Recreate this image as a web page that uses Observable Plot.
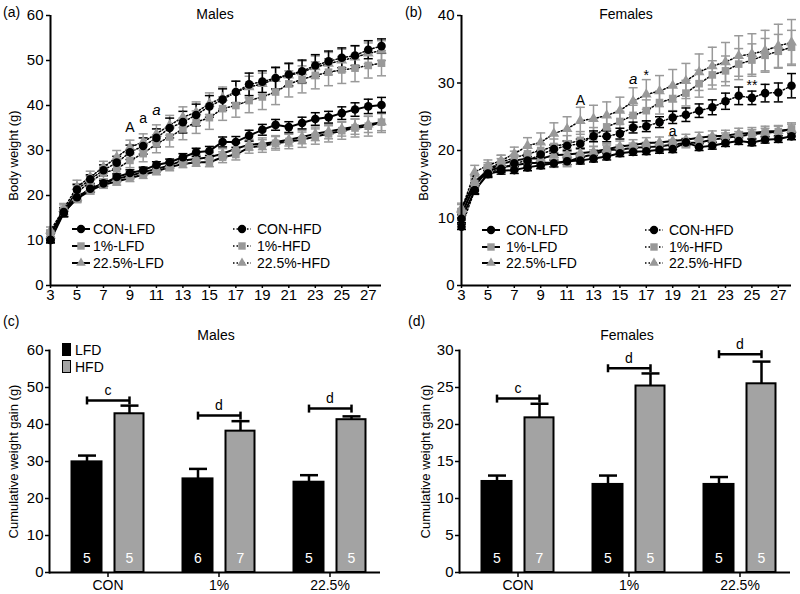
<!DOCTYPE html>
<html><head><meta charset="utf-8">
<script src="https://cdn.jsdelivr.net/npm/d3@7"></script>
<script src="https://cdn.jsdelivr.net/npm/@observablehq/plot@0.6"></script>
<style>
body{margin:0;background:#fff;font-family:"Liberation Sans",Arial,sans-serif;}
#root{position:relative;width:800px;height:594px;overflow:hidden;background:#fff;}
.abs{position:absolute;white-space:nowrap;font-size:14px;color:#000;line-height:14px;}
.plotbox{position:absolute;}
.leg{position:absolute;display:flex;align-items:center;height:14px;font-size:14px;line-height:14px;white-space:nowrap;}
</style></head><body><div id="root"></div>
<script>
// ---------- data ----------
const weeks = [3,4,5,6,7,8,9,10,11,12,13,14,15,16,17,18,19,20,21,22,23,24,25,26,27,28];
const weekTicks = [3,5,7,9,11,13,15,17,19,21,23,25,27];
const seriesNames = ["CON-LFD","1%-LFD","22.5%-LFD","CON-HFD","1%-HFD","22.5%-HFD"];
const seriesSymbol = ["circle","square","triangle","circle","square","triangle"];
const seriesColor = ["#000000","#999999","#999999","#000000","#999999","#999999"];
const seriesDotted = [false,false,false,true,true,true];

// Males body weight (g)
const mConLfd = [10.1,16.1,19.6,21.5,22.7,24.1,25.0,25.6,26.8,27.4,28.5,29.6,29.9,31.9,31.9,33.3,34.6,35.7,35.2,36.1,37.0,37.4,38.3,39.1,39.8,40.1];
const m1Lfd   = [11.5,16.3,19.3,21.1,22.4,23.1,23.9,24.6,25.4,26.3,27.0,27.4,27.4,28.5,29.1,30.7,31.0,31.6,32.0,32.4,33.1,33.7,34.4,35.0,35.4,36.3];
const m22Lfd  = [11.1,17.0,19.5,21.4,22.7,23.7,24.4,25.2,25.9,26.7,27.8,28.1,28.5,29.3,30.4,31.3,31.5,31.9,32.4,33.0,33.7,34.2,34.8,35.3,35.8,36.3];
const mConHfd = [10.1,16.3,21.3,23.6,25.6,27.3,29.6,31.0,32.8,35.0,36.3,37.9,39.8,41.3,43.0,44.7,45.3,46.1,46.9,47.6,48.9,49.8,50.6,51.1,52.4,53.2];
const m1Hfd   = [11.5,16.7,20.7,23.0,25.0,25.9,27.8,29.3,31.5,33.0,34.8,36.3,37.3,39.3,40.0,41.1,41.9,43.0,44.8,45.8,46.7,47.4,47.9,48.3,48.9,49.4];
const m22Hfd  = [12.2,17.0,21.9,24.1,26.3,28.5,30.7,31.9,33.7,35.6,37.4,38.5,40.4,41.7,43.0,44.1,44.8,45.9,46.7,47.4,48.5,49.3,50.0,50.7,51.6,52.2];
const mConLfdSem = [0.6,0.8,0.8,0.7,0.6,0.7,0.7,0.7,0.7,0.7,0.8,0.9,1.0,1.1,1.2,1.2,1.2,1.2,1.2,1.3,1.4,1.3,1.4,1.5,1.6,1.7];
const m1LfdSem   = [0.8,1.0,0.9,0.8,0.8,0.8,0.8,0.8,0.8,0.8,0.8,0.9,1.0,1.2,1.2,1.3,1.4,1.5,1.6,1.7,1.7,1.8,1.9,2.0,2.2,2.3];
const m22LfdSem  = [0.8,1.2,1.0,0.8,0.8,0.8,0.8,0.8,0.8,0.8,0.8,0.9,1.0,1.1,1.2,1.2,1.3,1.4,1.4,1.5,1.5,1.6,1.6,1.7,1.8,1.9];
const mConHfdSem = [0.6,1.0,1.2,1.0,1.2,1.4,1.6,1.8,2.0,2.2,2.4,2.4,2.4,2.4,2.4,2.5,2.4,2.4,2.5,2.5,2.4,2.3,2.2,2.2,2.0,1.6];
const m1HfdSem   = [0.8,1.2,1.5,1.3,1.3,1.5,1.6,1.8,2.0,2.2,2.4,2.5,2.6,2.6,2.6,2.7,2.8,2.8,2.9,3.0,3.0,3.0,3.0,3.0,2.8,2.8];
const m22HfdSem  = [0.8,1.2,1.5,1.3,1.3,1.5,1.6,1.8,2.0,2.2,2.3,2.3,2.4,2.4,2.4,2.4,2.4,2.4,2.5,2.5,2.5,2.5,2.5,2.5,2.3,2.2];

// Females body weight (g)
const fConLfd = [9.9,14.1,16.5,17.0,17.1,17.5,17.8,18.1,18.4,18.5,18.8,19.1,19.6,19.8,19.9,20.1,20.2,21.2,20.5,20.7,21.1,21.4,21.2,21.6,21.7,22.1];
const f1Lfd   = [10.6,14.8,17.0,17.5,17.8,18.1,18.2,18.2,18.3,19.0,19.4,20.1,20.1,20.4,20.5,20.6,20.9,21.1,21.2,21.6,21.9,22.1,22.4,22.6,22.8,23.2];
const f22Lfd  = [11.4,15.3,17.1,18.0,18.5,18.8,18.8,19.3,19.4,19.6,19.8,20.2,20.6,20.8,21.1,21.2,21.4,21.6,21.9,22.1,22.2,22.5,22.6,22.8,22.9,23.1];
const fConHfd = [8.7,14.1,16.6,17.3,18.1,18.5,19.4,20.2,20.7,21.0,22.1,22.1,22.5,23.4,23.6,24.2,24.9,25.3,25.9,26.4,27.3,28.1,27.8,28.5,28.6,29.6];
const f1Hfd   = [10.4,15.1,17.2,18.3,18.9,19.5,20.0,20.6,21.0,21.5,22.0,23.5,24.3,25.2,25.9,27.1,27.7,28.5,29.9,31.2,31.8,32.8,33.4,34.1,34.7,35.3];
const f22Hfd  = [11.2,16.8,17.8,18.5,19.5,20.7,21.2,22.5,23.2,24.4,24.7,25.2,25.9,27.3,28.3,28.8,29.6,30.3,31.6,32.5,33.1,34.0,34.3,34.8,35.5,36.0];
const fConLfdSem = [0.6,0.6,0.5,0.5,0.5,0.5,0.5,0.5,0.5,0.5,0.5,0.5,0.5,0.5,0.5,0.5,0.5,0.5,0.5,0.5,0.5,0.5,0.5,0.5,0.5,0.5];
const f1LfdSem   = [0.8,0.8,0.7,0.7,0.7,0.7,0.7,0.7,0.7,0.7,0.7,0.7,0.7,0.7,0.7,0.7,0.7,0.7,0.7,0.7,0.7,0.7,0.7,0.7,0.8,0.9];
const f22LfdSem  = [0.8,1.0,0.8,0.8,0.8,0.8,0.8,0.8,0.8,0.8,0.8,0.8,0.8,0.8,0.8,0.8,0.8,0.8,0.8,0.8,0.8,0.8,0.8,0.8,0.8,0.8];
const fConHfdSem = [0.4,0.5,0.5,0.5,0.5,0.6,0.6,0.6,0.7,0.7,0.8,0.8,0.8,0.8,0.8,0.8,0.9,1.0,1.0,1.1,1.2,1.3,1.0,1.3,1.4,1.8];
const f1HfdSem   = [0.8,1.0,1.0,1.0,1.0,1.0,1.0,1.1,1.2,1.3,1.4,1.5,1.5,1.5,1.6,1.7,1.8,1.9,2.0,2.1,2.2,2.3,2.4,2.5,2.5,2.5];
const f22HfdSem  = [0.8,1.0,0.8,0.8,1.0,1.2,1.4,1.6,1.8,2.0,2.0,2.0,2.0,2.0,2.2,2.3,2.4,2.6,2.7,2.8,2.9,3.0,3.0,3.0,3.2,3.4];

// annotations on the growth curves
const mAnnLabel = ["A","a","a"];
const mAnnWeek  = [9,10,11];
const mAnnValue = [35.1,37.1,38.9];
const mAnnItalic = [false,false,true];
const fAnnLabel = ["A","a","*","a","**"];
const fAnnWeek  = [12,16,17,19,25];
const fAnnValue = [27.4,30.5,31.1,22.8,29.6];
const fAnnItalic = [false,true,false,false,false];

// Cumulative weight gain
const groups = ["CON","1%","22.5%"];
const mLfdGain = [29.9,25.3,24.4];
const mLfdGainSem = [1.7,2.7,1.9];
const mHfdGain = [42.9,38.2,41.3];
const mHfdGainSem = [2.2,2.7,0.9];
const mLfdN = [5,6,5];
const mHfdN = [5,7,5];
const mBracket = [46.5,42.4,44.3];
const mBracketLabel = ["c","d","d"];

const fLfdGain = [12.3,11.9,11.9];
const fLfdGainSem = [0.8,1.2,1.0];
const fHfdGain = [20.9,25.2,25.5];
const fHfdGainSem = [1.9,1.7,3.0];
const fLfdN = [5,5,5];
const fHfdN = [7,5,5];
const fBracket = [23.5,27.6,29.5];
const fBracketLabel = ["c","d","d"];

const maleYTicks = [0,10,20,30,40,50,60];
const femaleYTicks = [0,10,20,30,40];
const maleGainTicks = [0,10,20,30,40,50,60];
const femaleGainTicks = [0,5,10,15,20,25,30];

// ---------- helpers ----------
const FONT = "Liberation Sans, Arial, sans-serif";
const hline = {draw(ctx, size){const r = Math.sqrt(size/Math.PI); ctx.moveTo(-r,0); ctx.lineTo(r,0);}};
const vline = {draw(ctx, size){const r = Math.sqrt(size/Math.PI); ctx.moveTo(0,-r); ctx.lineTo(0,r);}};
const root = document.getElementById("root");

function place(node, left, top){
  const d = document.createElement("div");
  d.className = "plotbox";
  d.style.left = left + "px"; d.style.top = top + "px";
  d.appendChild(node);
  root.appendChild(d);
}
function label(text, left, top, extra){
  const d = document.createElement("div");
  d.className = "abs";
  d.textContent = text;
  d.style.left = left + "px"; d.style.top = top + "px";
  if (extra) Object.assign(d.style, extra);
  root.appendChild(d);
  return d;
}

function linePanel(cfg){
  const rows = seriesNames.map((name,k) => weeks.map((w,i) => ({name, week:w, value:cfg.values[k][i], sem:cfg.sems[k][i]})));
  const order = [1,2,4,5,0,3];
  const marks = [];
  for (const k of order){
    const c = seriesColor[k];
    marks.push(Plot.ruleX(rows[k], {x:"week", y1:d=>d.value-d.sem, y2:d=>d.value+d.sem, stroke:c, strokeWidth:1.5}));
    marks.push(Plot.dot(rows[k], {x:"week", y:d=>d.value+d.sem, symbol:hline, r:4.5, fill:"none", stroke:c, strokeWidth:1.5}));
    marks.push(Plot.dot(rows[k], {x:"week", y:d=>d.value-d.sem, symbol:hline, r:4.5, fill:"none", stroke:c, strokeWidth:1.5}));
  }
  for (const k of order){
    marks.push(Plot.line(rows[k], seriesDotted[k]
      ? {x:"week", y:"value", stroke:"#000", strokeWidth:1.5, strokeDasharray:"1.5,2"}
      : {x:"week", y:"value", stroke:"#000", strokeWidth:2}));
  }
  for (const k of order){
    const sym = seriesSymbol[k];
    marks.push(Plot.dot(rows[k], {x:"week", y:"value", symbol:sym, r: sym==="triangle"?4:4.3, fill:seriesColor[k], stroke:"none"}));
  }
  const ann = cfg.annLabel.map((t,i)=>({t, week:cfg.annWeek[i], value:cfg.annValue[i], it:cfg.annItalic[i]}));
  marks.push(Plot.text(ann.filter(d=>!d.it), {x:"week", y:"value", text:"t", fontSize:14, fill:"#000"}));
  marks.push(Plot.text(ann.filter(d=>d.it), {x:"week", y:"value", text:"t", fontSize:15, fontStyle:"italic", fill:"#000"}));
  marks.push(Plot.axisY({ticks:cfg.yTicks, tickSize:4, tickPadding:3, fontSize:15, label:null, strokeWidth:1.5}));
  marks.push(Plot.axisX({ticks:weekTicks, tickSize:3, tickPadding:1, fontSize:15, label:null, strokeWidth:1.5}));
  marks.push(Plot.ruleX([3], {strokeWidth:2}));
  marks.push(Plot.ruleY([0], {strokeWidth:2}));
  marks.push(Plot.text([cfg.yLabel], {frameAnchor:"left", rotate:-90, dx:cfg.yLabelDx, dy:5, textAnchor:"middle", fontSize:13}));
  return Plot.plot({
    width:400, height:305, marginLeft:cfg.marginLeft, marginRight:cfg.marginRight, marginTop:15, marginBottom:20,
    x:{domain:[3,28]}, y:{domain:cfg.yDomain},
    style:{fontFamily:FONT, fontSize:"14px", color:"#000", background:"transparent", overflow:"visible"},
    marks
  });
}

function barPanel(cfg){
  const rows = groups.map((g,i)=>({group:g, lfd:cfg.lfd[i], lfdSem:cfg.lfdSem[i], hfd:cfg.hfd[i], hfdSem:cfg.hfdSem[i],
    lfdN:cfg.lfdN[i], hfdN:cfg.hfdN[i], br:cfg.bracket[i], brLab:cfg.bracketLabel[i]}));
  const L = -21, H = 21.5;
  const marks = [
    Plot.ruleX(rows, {x:"group", y1:"lfd", y2:d=>d.lfd+d.lfdSem, dx:L, stroke:"#000", strokeWidth:2.5}),
    Plot.dot(rows, {x:"group", y:d=>d.lfd+d.lfdSem, dx:L, symbol:hline, r:9, fill:"none", stroke:"#000", strokeWidth:2.5}),
    Plot.ruleX(rows, {x:"group", y1:"hfd", y2:d=>d.hfd+d.hfdSem, dx:H, stroke:"#000", strokeWidth:2.5}),
    Plot.dot(rows, {x:"group", y:d=>d.hfd+d.hfdSem, dx:H, symbol:hline, r:9, fill:"none", stroke:"#000", strokeWidth:2.5}),
    Plot.barY(rows, {x:"group", y:"lfd", fill:"#000", stroke:"#000", strokeWidth:2, insetLeft:19.5, insetRight:61.5}),
    Plot.barY(rows, {x:"group", y:"hfd", fill:"#a3a3a3", stroke:"#000", strokeWidth:2, insetLeft:62.5, insetRight:19.5}),
    Plot.tickY(rows, {x:"group", y:"br", insetLeft:34.5, insetRight:34, stroke:"#000", strokeWidth:2.5}),
    Plot.dot(rows, {x:"group", y:"br", dx:L, symbol:vline, r:4, fill:"none", stroke:"#000", strokeWidth:2.5}),
    Plot.dot(rows, {x:"group", y:"br", dx:H, symbol:vline, r:4, fill:"none", stroke:"#000", strokeWidth:2.5}),
    Plot.text(rows, {x:"group", y:"br", text:"brLab", dy:-10, fontSize:14, fill:"#000"}),
    Plot.text(rows, {x:"group", text:d=>String(d.lfdN), frameAnchor:"bottom", dx:L, dy:-10, fill:"#fff", fontSize:14}),
    Plot.text(rows, {x:"group", text:d=>String(d.hfdN), frameAnchor:"bottom", dx:H, dy:-10, fill:"#fff", fontSize:14}),
    Plot.axisY({ticks:cfg.yTicks, tickSize:4, tickPadding:2, fontSize:15, label:null, strokeWidth:1.5}),
    Plot.axisX({tickSize:5, tickPadding:3, fontSize:14, label:null, strokeWidth:1.5}),
    Plot.ruleY([0], {strokeWidth:2}),
    Plot.frame({anchor:"left", strokeWidth:2}),
    Plot.text([cfg.yLabel], {frameAnchor:"left", rotate:-90, dx:cfg.yLabelDx, dy:0, textAnchor:"middle", fontSize:13})
  ];
  return Plot.plot({
    width:400, height:289, marginLeft:cfg.marginLeft, marginRight:cfg.marginRight, marginTop:45, marginBottom:22,
    x:{type:"band", domain:groups, range:cfg.xRange, padding:0}, y:{domain:cfg.yDomain},
    style:{fontFamily:FONT, fontSize:"14px", color:"#000", background:"transparent", overflow:"visible"},
    marks
  });
}

function lineLegend(colX, textGap, rowsY){
  for (let k=0;k<6;k++){
    const col = k<3?0:1, row = k%3;
    const d = document.createElement("div");
    d.className = "leg";
    d.style.left = colX[col] + "px"; d.style.top = (rowsY[row]-7) + "px";
    const ns = "http://www.w3.org/2000/svg";
    const s = document.createElementNS(ns,"svg");
    s.setAttribute("width","20"); s.setAttribute("height","14");
    const ln = document.createElementNS(ns,"line");
    ln.setAttribute("x1","1"); ln.setAttribute("x2","19"); ln.setAttribute("y1","7"); ln.setAttribute("y2","7");
    ln.setAttribute("stroke","#000");
    if (seriesDotted[k]){ ln.setAttribute("stroke-width","1.5"); ln.setAttribute("stroke-dasharray","1.5,2"); }
    else ln.setAttribute("stroke-width","2");
    s.appendChild(ln);
    const sym = document.createElementNS(ns,"path");
    sym.setAttribute("d", d3.symbol(d3["symbol"+seriesSymbol[k][0].toUpperCase()+seriesSymbol[k].slice(1)], seriesSymbol[k]==="triangle"?40:55)());
    sym.setAttribute("transform","translate(10,7)");
    sym.setAttribute("fill", seriesColor[k]);
    s.appendChild(sym);
    d.appendChild(s);
    const t = document.createElement("span");
    t.textContent = seriesNames[k];
    t.style.marginLeft = textGap[col] + "px";
    d.appendChild(t);
    root.appendChild(d);
  }
}

// ---------- panels ----------
place(linePanel({
  values:[mConLfd,m1Lfd,m22Lfd,mConHfd,m1Hfd,m22Hfd],
  sems:[mConLfdSem,m1LfdSem,m22LfdSem,mConHfdSem,m1HfdSem,m22HfdSem],
  yDomain:[0,60], yTicks:maleYTicks, marginLeft:50, marginRight:19,
  annLabel:mAnnLabel, annWeek:mAnnWeek, annValue:mAnnValue, annItalic:mAnnItalic,
  yLabel:"Body weight (g)", yLabelDx:-37
}), 0, 0);

place(linePanel({
  values:[fConLfd,f1Lfd,f22Lfd,fConHfd,f1Hfd,f22Hfd],
  sems:[fConLfdSem,f1LfdSem,f22LfdSem,fConHfdSem,f1HfdSem,f22HfdSem],
  yDomain:[0,40], yTicks:femaleYTicks, marginLeft:61, marginRight:9,
  annLabel:fAnnLabel, annWeek:fAnnWeek, annValue:fAnnValue, annItalic:fAnnItalic,
  yLabel:"Body weight (g)", yLabelDx:-38
}), 400, 0);

place(barPanel({
  lfd:mLfdGain, lfdSem:mLfdGainSem, hfd:mHfdGain, hfdSem:mHfdGainSem, lfdN:mLfdN, hfdN:mHfdN,
  bracket:mBracket, bracketLabel:mBracketLabel, yDomain:[0,60], yTicks:maleGainTicks,
  marginLeft:49, marginRight:20, xRange:[51.5,384.5],
  yLabel:"Cumulative weight gain (g)", yLabelDx:-36
}), 0, 305);

place(barPanel({
  lfd:fLfdGain, lfdSem:fLfdGainSem, hfd:fHfdGain, hfdSem:fHfdGainSem, lfdN:fLfdN, hfdN:fHfdN,
  bracket:fBracket, bracketLabel:fBracketLabel, yDomain:[0,30], yTicks:femaleGainTicks,
  marginLeft:59, marginRight:10, xRange:[61.5,394.5],
  yLabel:"Cumulative weight gain (g)", yLabelDx:-34
}), 400, 305);

// ---------- titles, panel letters, legends ----------
label("(a)", 3, 5);
label("(b)", 405, 5);
label("(c)", 3, 314);
label("(d)", 408, 314);
label("Males", 215, 7, {transform:"translateX(-50%)"});
label("Females", 626, 7, {transform:"translateX(-50%)"});
label("Males", 216, 328, {transform:"translateX(-50%)"});
label("Females", 627, 328, {transform:"translateX(-50%)"});

lineLegend([71, 232], [2, 5], [229, 246, 263]);
lineLegend([481, 644], [5, 5], [230, 247, 263]);

// bar legend (c)
(function(){
  const items = [["LFD","#000"],["HFD","#a3a3a3"]];
  items.forEach(([name,fill],i)=>{
    const box = document.createElement("div");
    box.style.position = "absolute";
    box.style.left = "62px"; box.style.top = (343 + i*17) + "px";
    box.style.width = "7px"; box.style.height = "11px";
    box.style.background = fill; box.style.border = "1.5px solid #000";
    root.appendChild(box);
    label(name, 75, 343 + i*17);
  });
})();
</script></body></html>
